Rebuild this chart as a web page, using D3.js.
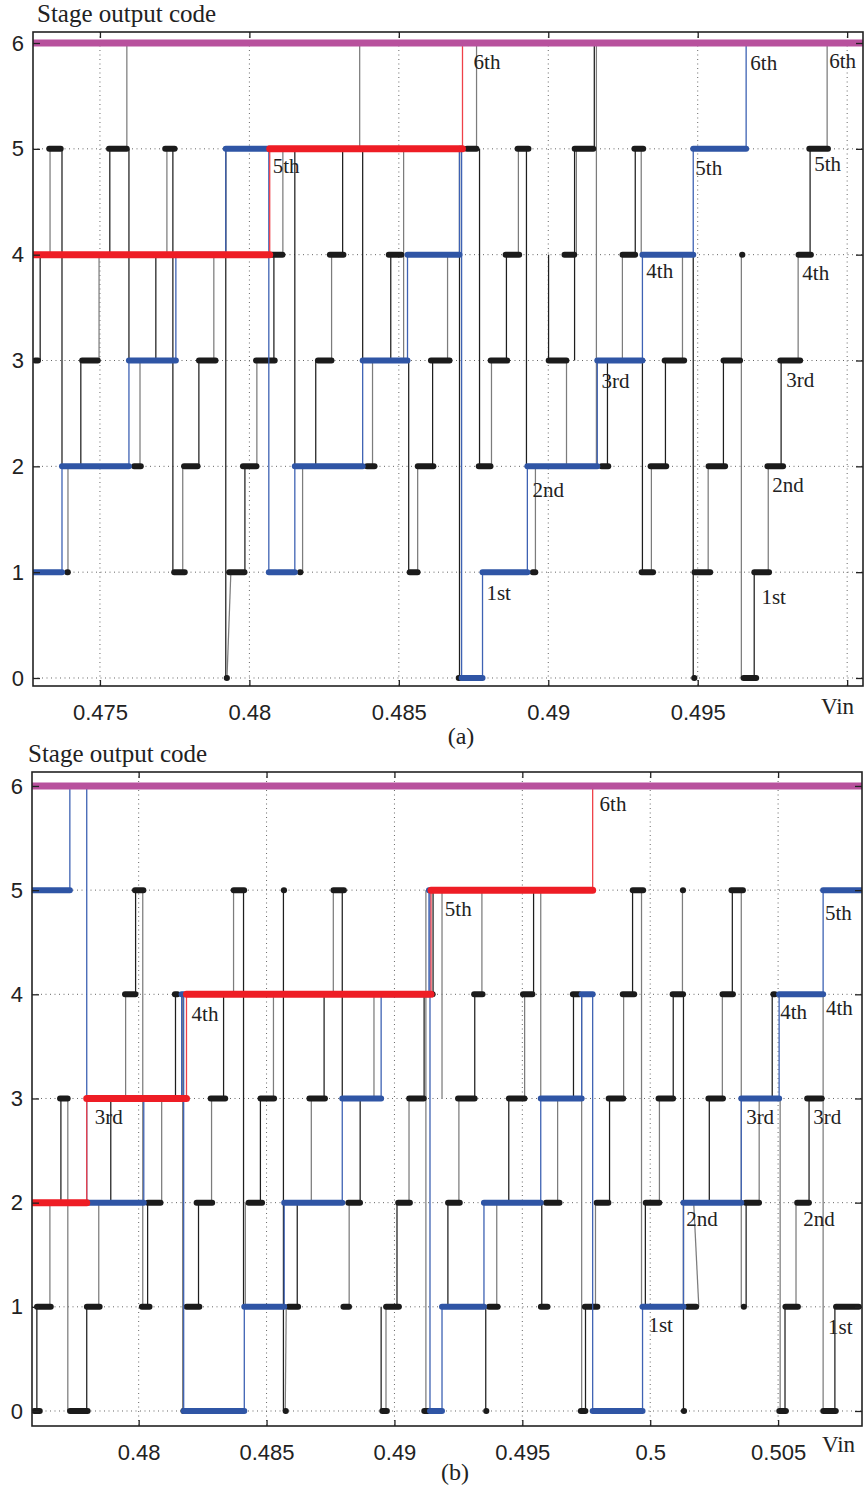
<!DOCTYPE html>
<html><head><meta charset="utf-8">
<script src="https://cdn.jsdelivr.net/npm/d3@7"></script>
<style>body{margin:0;background:#fff} svg{display:block}</style>
</head><body>
<svg id="chart" width="865" height="1488"></svg>
<script>
// ---------------- DATA ----------------
const codeTicks = [0, 1, 2, 3, 4, 5, 6];
const codeTickLabels = ["0", "1", "2", "3", "4", "5", "6"];

// Panel (a)
const xTicksA = [0.475, 0.48, 0.485, 0.49, 0.495, 0.5];
const xTickLabelsA = ["0.475", "0.48", "0.485", "0.49", "0.495", ""];
// black stage-code plateaus [Vin start, Vin end, code]
const blackSegA = [
  [0.47323,0.47376,5],[0.47523,0.47597,5],[0.47711,0.47757,5],[0.48720,0.48767,5],[0.48890,0.48941,5],[0.49081,0.49158,5],[0.49281,0.49325,5],[0.49866,0.49943,5],
  [0.48068,0.48118,4],[0.48262,0.48322,4],[0.48459,0.48516,4],[0.48850,0.48910,4],[0.49047,0.49094,4],[0.49241,0.49298,4],[0.49642,0.49656,4],[0.49830,0.49886,4],
  [0.47276,0.47300,3],[0.47433,0.47500,3],[0.47824,0.47894,3],[0.48015,0.48092,3],[0.48222,0.48282,3],[0.48600,0.48677,3],[0.48800,0.48870,3],[0.48994,0.49068,3],[0.49382,0.49462,3],[0.49579,0.49649,3],[0.49769,0.49850,3],
  [0.47607,0.47644,2],[0.47774,0.47834,2],[0.47971,0.48031,2],[0.48386,0.48426,2],[0.48556,0.48623,2],[0.48760,0.48814,2],[0.49171,0.49208,2],[0.49335,0.49402,2],[0.49529,0.49599,2],[0.49726,0.49793,2],
  [0.47383,0.47400,1],[0.47741,0.47791,1],[0.47925,0.47991,1],[0.48162,0.48178,1],[0.48529,0.48570,1],[0.48941,0.48964,1],[0.49305,0.49358,1],[0.49482,0.49549,1],[0.49682,0.49746,1],
  [0.47921,0.47928,0],[0.48693,0.48710,0],[0.49485,0.49492,0],[0.49646,0.49703,0]
];
// black transitions [Vin, from code, to code, (Vin at end)]
const blackConnA = [
  [0.47300,4,3],[0.47333,5,4],[0.47373,5,2],[0.47393,2,1],[0.47436,3,2],[0.47497,4,3],[0.47533,5,4],[0.47590,6,5],[0.47597,5,3],
  [0.47634,3,2],[0.47687,4,3],[0.47724,5,4],[0.47744,5,1],[0.47777,2,1],[0.47831,3,2],[0.47881,4,3],[0.47921,5,0],[0.47925,0,1,0.47938],
  [0.47985,2,1],[0.48025,3,2],[0.48082,4,3],[0.48112,5,4],[0.48152,5,2],[0.48178,2,1],[0.48222,3,2],[0.48275,4,3],[0.48312,5,4],
  [0.48369,6,5],[0.48379,5,3],[0.48412,3,2],[0.48473,4,3],[0.48516,5,3],[0.48533,3,1],[0.48563,2,1],[0.48613,3,2],[0.48663,4,3],
  [0.48703,5,0],[0.48760,6,5],[0.48770,5,2],[0.48810,3,2],[0.48860,4,3],[0.48900,5,4],[0.48927,5,2],[0.48957,2,1],[0.49001,4,3],
  [0.49061,3,2],[0.49088,5,3],[0.49094,5,4],[0.49154,6,5],[0.49161,6,2],[0.49198,3,2],[0.49248,4,3],[0.49291,5,4],[0.49311,5,4],
  [0.49315,3,1],[0.49345,2,1],[0.49392,3,2],[0.49449,4,3],[0.49485,4,0],[0.49535,2,1],[0.49586,3,2],[0.49646,4,0],[0.49689,1,0],
  [0.49736,2,1],[0.49779,3,2],[0.49836,4,3],[0.49876,5,4],[0.49933,6,5]
];
// highlighted staircases [Vin where code starts, code]
const blueStepsA = [
  [0.47276,1],[0.47373,2],[0.47597,3],[0.47754,4],[0.47921,5],[0.48065,1],[0.48152,2],[0.48379,3],[0.48529,4],
  [0.48703,5],[0.48710,0],[0.48780,1],[0.48930,2],[0.49164,3],[0.49315,4],[0.49485,5],[0.49662,6]
];
const redStepsA = [[0.47276,4],[0.48068,5],[0.48713,6]];
const stageLabelsA = [
  ["6th",0.48750,5.755],["5th",0.48078,4.772],["6th",0.49676,5.745],["6th",0.49940,5.764],["5th",0.49492,4.753],
  ["5th",0.49890,4.791],["4th",0.49328,3.780],["4th",0.49850,3.761],["3rd",0.49178,2.740],["3rd",0.49796,2.750],
  ["2nd",0.48947,1.710],["2nd",0.49749,1.758],["1st",0.48793,0.737],["1st",0.49713,0.699]
];

// Panel (b)
const xTicksB = [0.48, 0.485, 0.49, 0.495, 0.5, 0.505];
const xTickLabelsB = ["0.48", "0.485", "0.49", "0.495", "0.5", "0.505"];
const blackSegB = [
  [0.47977,0.48027,5],[0.48363,0.48421,5],[0.48566,0.48570,5],[0.48753,0.48811,5],[0.49923,0.49981,5],[0.50126,0.50130,5],[0.50309,0.50371,5],
  [0.47938,0.47996,4],[0.48133,0.48160,4],[0.49147,0.49151,4],[0.49303,0.49353,4],[0.49494,0.49548,4],[0.49689,0.49732,4],[0.49884,0.49946,4],[0.50079,0.50137,4],[0.50274,0.50332,4],[0.50473,0.50496,4],
  [0.47684,0.47731,3],[0.48273,0.48347,3],[0.48468,0.48538,3],[0.48659,0.48737,3],[0.49049,0.49123,3],[0.49240,0.49322,3],[0.49439,0.49517,3],[0.49829,0.49903,3],[0.50024,0.50098,3],[0.50219,0.50293,3],[0.50605,0.50679,3],
  [0.48027,0.48094,2],[0.48218,0.48296,2],[0.48421,0.48491,2],[0.48811,0.48874,2],[0.49006,0.49069,2],[0.49201,0.49264,2],[0.49584,0.49654,2],[0.49782,0.49845,2],[0.49974,0.50044,2],[0.50364,0.50434,2],[0.50566,0.50629,2],
  [0.47594,0.47665,1],[0.47789,0.47856,1],[0.48004,0.48051,1],[0.48179,0.48246,1],[0.48577,0.48632,1],[0.48792,0.48831,1],[0.48959,0.49026,1],[0.49361,0.49412,1],[0.49564,0.49607,1],[0.49736,0.49802,1],[0.50137,0.50188,1],[0.50364,0.50368,1],[0.50520,0.50586,1],[0.50718,0.50824,1],
  [0.47583,0.47622,0],[0.47723,0.47809,0],[0.48168,0.48183,0],[0.48573,0.48577,0],[0.48944,0.48979,0],[0.49108,0.49143,0],[0.49357,0.49361,0],[0.49720,0.49755,0],[0.50130,0.50134,0],[0.50496,0.50539,0],[0.50668,0.50734,0]
];
const blackConnB = [
  [0.47602,0,1],[0.47653,2,1],[0.47696,3,2],[0.47723,3,0],[0.47797,1,0],[0.47844,2,1],[0.47891,3,2],[0.47949,4,3],[0.47988,5,4],
  [0.48016,5,1],[0.48035,2,1],[0.48090,3,2],[0.48144,4,3],[0.48172,4,0],[0.48234,2,1],[0.48285,3,2],[0.48332,4,3],[0.48371,5,4],
  [0.48410,5,1],[0.48417,2,1],[0.48476,3,2],[0.48527,4,3],[0.48566,5,0],[0.48573,0,1,0.48577],[0.48620,2,1],[0.48675,3,2],
  [0.48725,4,3],[0.48761,5,4],[0.48796,5,3],[0.48823,2,1],[0.48866,3,2],[0.48920,4,3],[0.48948,1,0],[0.48967,1,0],[0.49010,2,1],
  [0.49057,3,2],[0.49116,4,3],[0.49123,5,0],[0.49151,5,4],[0.49186,5,3],[0.49209,2,1],[0.49252,3,2],[0.49314,4,3],[0.49342,5,4],
  [0.49357,1,0],[0.49400,2,1],[0.49447,3,2],[0.49509,4,3],[0.49544,5,4],[0.49572,5,3],[0.49576,2,1],[0.49638,3,2],[0.49700,4,3],
  [0.49732,4,0],[0.49747,1,0],[0.49786,2,1],[0.49841,3,2],[0.49896,4,3],[0.49931,5,4],[0.49966,5,1],[0.49981,2,1],[0.50036,3,2],
  [0.50090,4,3],[0.50126,5,4],[0.50130,4,0],[0.50170,2,1,0.50190],[0.50231,3,2],[0.50282,4,3],[0.50321,5,4],[0.50356,5,1],
  [0.50375,2,1],[0.50426,3,2],[0.50477,4,3],[0.50508,3,0],[0.50527,1,0],[0.50570,2,1],[0.50621,3,2],[0.50676,4,0],[0.50722,1,0]
];
const blueStepsB = [
  [0.47583,5],[0.47731,6],[0.47797,2],[0.48020,3],[0.48168,4],[0.48176,0],[0.48413,1],[0.48569,2],[0.48796,3],[0.48948,4],[0.49135,5],
  [0.49139,0],[0.49186,1],[0.49350,2],[0.49572,3],[0.49732,4],[0.49775,0],[0.49970,1],[0.50130,2],[0.50356,3],[0.50504,4],[0.50676,5]
];
const redStepsB = [[0.47583,2],[0.47797,3],[0.48187,4],[0.49143,5],[0.49775,6]];
const stageLabelsB = [
  ["6th",0.49802,5.760],["5th",0.49197,4.752],["5th",0.50683,4.713],["4th",0.48207,3.744],["4th",0.50508,3.763],
  ["4th",0.50687,3.801],["3rd",0.47828,2.755],["3rd",0.50375,2.755],["3rd",0.50637,2.755],["2nd",0.50141,1.776],
  ["2nd",0.50598,1.776],["1st",0.49993,0.758],["1st",0.50695,0.739]
];

// ---------------- LAYOUT ----------------
const panels = [
  { xDom:[0.47276,0.50053], yDom:[-0.0756,6.104], left:33, right:863, top:32, bottom:686,
    xTicks:xTicksA, xLabels:xTickLabelsA, black:blackSegA, conn:blackConnA, blue:blueStepsA, red:redStepsA, labels:stageLabelsA,
    title:[37,22], vin:[821,714], tag:["(a)",461,744] },
  { xDom:[0.47583,0.50828], yDom:[-0.144,6.134], left:32, right:862, top:772, bottom:1426,
    xTicks:xTicksB, xLabels:xTickLabelsB, black:blackSegB, conn:blackConnB, blue:blueStepsB, red:redStepsB, labels:stageLabelsB,
    title:[28,762], vin:[822,1452], tag:["(b)",455,1480] }
];

const svg = d3.select("#chart");
svg.append("rect").attr("width",865).attr("height",1488).attr("fill","#fff");
const serif = "'Liberation Serif','Times New Roman',serif";
const sans = "'Liberation Sans',Arial,sans-serif";

panels.forEach(p => {
  const x = d3.scaleLinear().domain(p.xDom).range([p.left, p.right]);
  const y = d3.scaleLinear().domain(p.yDom).range([p.bottom, p.top]);
  const g = svg.append("g");
  const clipId = "clip" + p.top;
  svg.append("clipPath").attr("id", clipId).append("rect")
    .attr("x", p.left).attr("y", p.top).attr("width", p.right - p.left).attr("height", p.bottom - p.top);
  const plot = g.append("g").attr("clip-path", `url(#${clipId})`);

  // grid
  plot.selectAll(".gx").data(p.xTicks).join("line")
    .attr("x1", d => x(d)).attr("x2", d => x(d)).attr("y1", p.top).attr("y2", p.bottom)
    .attr("stroke", "#666").attr("stroke-width", 1).attr("stroke-dasharray", "1,3.5");
  plot.selectAll(".gy").data(codeTicks).join("line")
    .attr("x1", p.left).attr("x2", p.right).attr("y1", d => y(d)).attr("y2", d => y(d))
    .attr("stroke", "#666").attr("stroke-width", 1).attr("stroke-dasharray", "1,3.5");

  // black transitions
  plot.selectAll(".bc").data(p.conn).join("line")
    .attr("x1", d => x(d[0])).attr("y1", d => y(d[1]))
    .attr("x2", d => x(d.length > 3 ? d[3] : d[0])).attr("y2", d => y(d[2]))
    .attr("stroke", (d, i) => i % 2 ? "#7c7c7c" : "#1e1e1e").attr("stroke-width", 1.25);

  // black plateaus
  const inset = 2.2;
  plot.selectAll(".bs").data(p.black).join("line")
    .each(function(d) {
      let a = x(d[0]) + inset, b = x(d[1]) - inset;
      if (b < a) { const m = (x(d[0]) + x(d[1])) / 2; a = m - 0.1; b = m + 0.1; }
      d3.select(this).attr("x1", a).attr("x2", b).attr("y1", y(d[2])).attr("y2", y(d[2]));
    })
    .attr("stroke", "#1b1b1b").attr("stroke-width", 6).attr("stroke-linecap", "round");

  // staircase chains
  function chain(steps, thick, thin, w, endX) {
    const segs = steps.map((s, i) => [s[0], i < steps.length - 1 ? steps[i + 1][0] : endX, s[1]]);
    const rises = steps.slice(1).map((s, i) => [s[0], steps[i][1], s[1]]);
    plot.append("g").selectAll("line").data(rises).join("line")
      .attr("x1", d => x(d[0])).attr("x2", d => x(d[0])).attr("y1", d => y(d[1])).attr("y2", d => y(d[2]))
      .attr("stroke", thin).attr("stroke-width", 1.3);
    plot.append("g").selectAll("line").data(segs.filter(s => s[2] < 6)).join("line")
      .attr("x1", d => x(d[0])).attr("x2", d => x(d[1])).attr("y1", d => y(d[2])).attr("y2", d => y(d[2]))
      .attr("stroke", thick).attr("stroke-width", w).attr("stroke-linecap", "round");
  }
  chain(p.blue, "#2f55a5", "#3e62b3", 6, p.xDom[1]);
  chain(p.red, "#ee1d25", "#ef4048", 7, p.xDom[1]);

  // top code line (all stages saturated at 6)
  plot.append("line").attr("x1", x(p.xDom[0])).attr("x2", x(p.xDom[1])).attr("y1", y(6)).attr("y2", y(6))
    .attr("stroke", "#b8519d").attr("stroke-width", 7);

  // stage labels
  g.selectAll(".lab").data(p.labels).join("text")
    .attr("x", d => x(d[1])).attr("y", d => y(d[2])).text(d => d[0])
    .attr("font-family", serif).attr("font-size", 21).attr("fill", "#222");

  // frame
  g.append("rect").attr("x", p.left).attr("y", p.top).attr("width", p.right - p.left).attr("height", p.bottom - p.top)
    .attr("fill", "none").attr("stroke", "#222").attr("stroke-width", 1.6);

  // axes
  const ax = g.append("g").attr("transform", `translate(0,${p.bottom})`)
    .call(d3.axisBottom(x).tickValues(p.xTicks).tickFormat((d, i) => p.xLabels[i]).tickSizeInner(-6).tickSizeOuter(0).tickPadding(18));
  const axT = g.append("g").attr("transform", `translate(0,${p.top})`)
    .call(d3.axisTop(x).tickValues(p.xTicks).tickFormat("").tickSizeInner(-6).tickSizeOuter(0));
  const ay = g.append("g").attr("transform", `translate(${p.left},0)`)
    .call(d3.axisLeft(y).tickValues(codeTicks).tickFormat((d, i) => codeTickLabels[i]).tickSizeInner(-7).tickSizeOuter(0).tickPadding(9));
  const ayR = g.append("g").attr("transform", `translate(${p.right},0)`)
    .call(d3.axisRight(y).tickValues(codeTicks).tickFormat("").tickSizeInner(-7).tickSizeOuter(0));
  [ax, axT, ay, ayR].forEach(a => {
    a.select(".domain").remove();
    a.selectAll(".tick line").attr("stroke", "#222").attr("stroke-width", 1.3);
    a.selectAll("text").attr("font-family", sans).attr("font-size", 22).attr("fill", "#222");
  });

  // titles
  svg.append("text").attr("x", p.title[0]).attr("y", p.title[1]).text("Stage output code")
    .attr("font-family", serif).attr("font-size", 25).attr("fill", "#222");
  svg.append("text").attr("x", p.vin[0]).attr("y", p.vin[1]).text("Vin")
    .attr("font-family", serif).attr("font-size", 23).attr("fill", "#222");
  svg.append("text").attr("x", p.tag[1]).attr("y", p.tag[2]).text(p.tag[0]).attr("text-anchor", "middle")
    .attr("font-family", serif).attr("font-size", 24).attr("fill", "#222");
});
</script>
</body></html>
